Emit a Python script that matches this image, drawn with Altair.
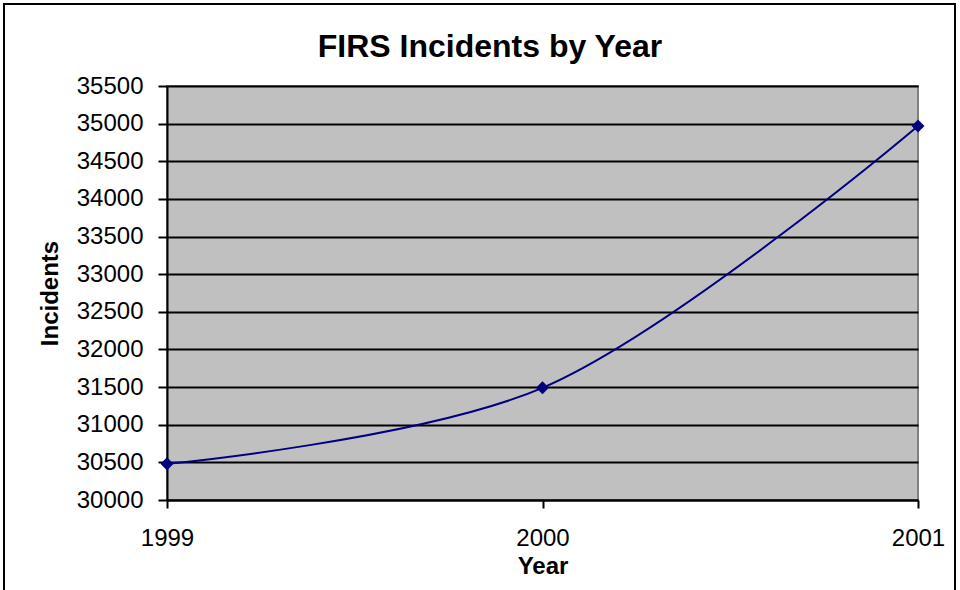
import altair as alt
import pandas as pd

years = [1999, 2000, 2001]
incidents = [30480, 31490, 34970]
y_ticks = list(range(30000, 35501, 500))
chart_title = "FIRS Incidents by Year"

df = pd.DataFrame({"Year": years, "Incidents": incidents})

FONT = "Liberation Sans"
NAVY = "#000080"

x_enc = alt.X(
    "Year:O",
    scale=alt.Scale(type="point", padding=0),
    axis=alt.Axis(
        title="Year", grid=False, labelAngle=0,
        domainColor="black", domainWidth=2, tickColor="black", tickWidth=2,
        tickSize=8, labelPadding=18, labelFontSize=24, labelColor="black",
        labelFont=FONT, titleFont=FONT, titleFontSize=24, titleFontWeight="bold",
        titleColor="black", titlePadding=4, labelOverlap=False,
    ),
)
y_enc = alt.Y(
    "Incidents:Q",
    scale=alt.Scale(domain=[30000, 35500], nice=False, zero=False),
    axis=alt.Axis(
        values=y_ticks, tickCount=len(y_ticks), format="d", title="Incidents",
        grid=True, gridColor="black", gridWidth=2,
        domainColor="black", domainWidth=2, tickColor="black", tickWidth=2,
        tickSize=9, labelPadding=15, labelFontSize=24, labelColor="black",
        labelFont=FONT, titleFont=FONT, titleFontSize=24, titleFontWeight="bold",
        titleColor="black", titlePadding=14, labelOverlap=False,
    ),
)

line = alt.Chart(df).mark_line(
    color=NAVY, strokeWidth=2, interpolate="catmull-rom", clip=False
).encode(x=x_enc, y=y_enc)

points = alt.Chart(df).mark_point(
    shape="diamond", filled=True, color=NAVY, size=170, opacity=1
).encode(x=x_enc, y=y_enc)

# frame around the whole chart
frame = alt.Chart(df).mark_rect(
    fill=None, stroke="black", strokeWidth=2, clip=False
).encode(
    x=alt.value(-163), x2=alt.value(788),
    y=alt.value(-82), y2=alt.value(620),
)

# chart heading
heading = alt.Chart(pd.DataFrame({"t": [chart_title]})).mark_text(
    font=FONT, fontSize=32, fontWeight="bold", color="black",
    align="center", baseline="middle",
).encode(text="t:N", x=alt.value(323), y=alt.value(-39))

chart = alt.layer(frame, line, points, heading).properties(
    width=751,
    height=414,
    padding={"left": 167, "top": 86, "right": 42, "bottom": 90},
    autosize=alt.AutoSizeParams(type="none"),
    background="white",
).configure_view(
    fill="#C0C0C0", stroke="#808080", strokeWidth=2
)

chart.save("out.html", embed_options={"renderer": "svg", "actions": False})
